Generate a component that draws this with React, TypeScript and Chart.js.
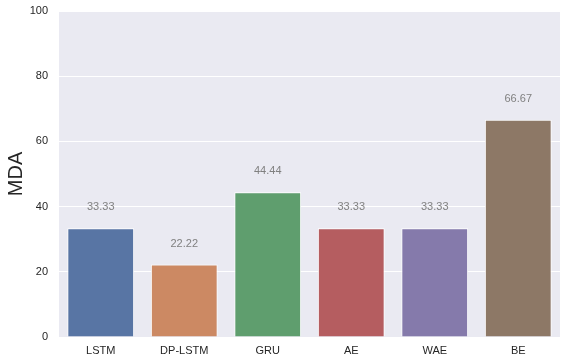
import React, { useEffect, useRef } from "react";
import { Chart, registerables } from "chart.js";

Chart.register(...registerables);

const categories = ["LSTM", "DP-LSTM", "GRU", "AE", "WAE", "BE"];
const mdaValues = [33.33, 22.22, 44.44, 33.33, 33.33, 66.67];
const valueLabels = ["33.33", "22.22", "44.44", "33.33", "33.33", "66.67"];
const barColors = ["#5875A4", "#CC8963", "#5F9E6E", "#B55D60", "#857AAB", "#8D7866"];
const yTicks = [0, 20, 40, 60, 80, 100];

const FONT = "'Liberation Sans', Arial, 'DejaVu Sans', sans-serif";

export default function App() {
  const ref = useRef<HTMLCanvasElement | null>(null);

  useEffect(() => {
    document.body.style.margin = "0";
    const canvas = ref.current;
    if (!canvas) return;

    const bgPlugin = {
      id: "bgPlugin",
      beforeDraw(chart: any) {
        const { ctx, chartArea } = chart;
        ctx.save();
        ctx.fillStyle = "#EAEAF2";
        ctx.fillRect(chartArea.left, chartArea.top, chartArea.right - chartArea.left, chartArea.bottom - chartArea.top);
        ctx.restore();
      },
    };

    const labelPlugin = {
      id: "labelPlugin",
      afterDatasetsDraw(chart: any) {
        const { ctx } = chart;
        const meta = chart.getDatasetMeta(0);
        ctx.save();
        ctx.fillStyle = "#808080";
        ctx.font = `11px ${FONT}`;
        ctx.textAlign = "center";
        ctx.textBaseline = "middle";
        meta.data.forEach((bar: any, i: number) => {
          ctx.fillText(valueLabels[i], bar.x, bar.y - 21);
        });
        ctx.restore();
      },
    };

    const chart = new Chart(canvas, {
      type: "bar",
      data: {
        labels: categories,
        datasets: [
          {
            data: mdaValues,
            backgroundColor: barColors,
            borderColor: "#FFFFFF",
            borderWidth: 1,
            barPercentage: 0.8,
            categoryPercentage: 1,
          },
        ],
      },
      options: {
        animation: false,
        responsive: false,
        maintainAspectRatio: false,
        layout: { padding: { left: 0, right: 7, top: 11, bottom: 0 } },
        plugins: {
          legend: { display: false },
          tooltip: { enabled: false },
        },
        scales: {
          x: {
            grid: { display: false, drawTicks: false },
            border: { display: false },
            ticks: { color: "#262626", font: { family: FONT, size: 11 }, padding: 7 },
            afterFit(scale: any) {
              scale.height = 27;
              scale.paddingLeft = 0;
              scale.paddingRight = 0;
            },
          },
          y: {
            min: 0,
            max: 100,
            afterBuildTicks(scale: any) {
              scale.ticks = yTicks.map((v) => ({ value: v }));
            },
            grid: { color: "#FFFFFF", lineWidth: 1, drawTicks: false },
            border: { display: false },
            ticks: { color: "#262626", font: { family: FONT, size: 11 }, padding: 11 },
            title: {
              display: true,
              text: "MDA",
              color: "#262626",
              font: { family: FONT, size: 20 },
              padding: { top: 4, bottom: 4 },
            },
            afterFit(scale: any) {
              scale.width = 59;
              scale.paddingTop = 0;
              scale.paddingBottom = 0;
            },
          },
        },
      },
      plugins: [bgPlugin, labelPlugin],
    });

    return () => chart.destroy();
  }, []);

  return (
    <div style={{ width: 567, height: 364, background: "#FFFFFF" }}>
      <canvas ref={ref} width={567} height={364} style={{ display: "block" }} />
    </div>
  );
}
